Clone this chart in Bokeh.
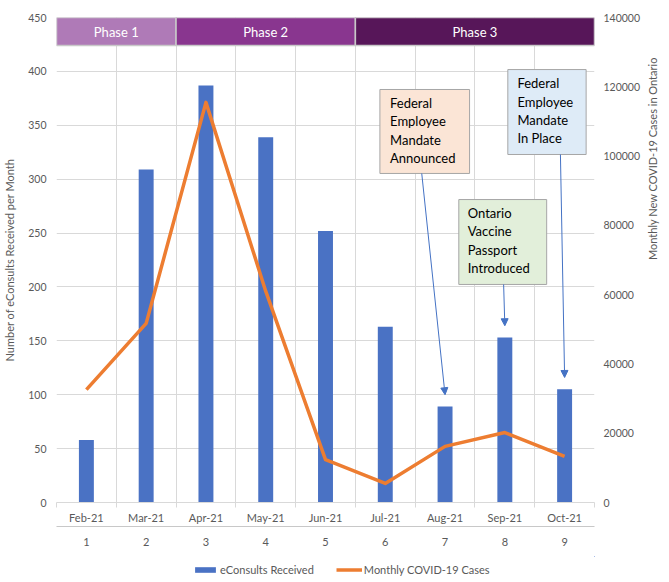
import math
from bokeh.plotting import figure
from bokeh.layouts import column
from bokeh.models import (Range1d, LinearAxis, FixedTicker, Legend, LegendItem,
                          Arrow, NormalHead, BasicTickFormatter)
from bokeh.core.properties import value
from bokeh.embed import file_html
from bokeh.resources import INLINE

# ---------------- data ----------------
months = ["Feb-21", "Mar-21", "Apr-21", "May-21", "Jun-21", "Jul-21", "Aug-21", "Sep-21", "Oct-21"]
month_numbers = ["1", "2", "3", "4", "5", "6", "7", "8", "9"]
econsults = [58, 309, 387, 339, 252, 163, 89, 153, 105]
covid_cases = [32600, 51700, 115500, 61000, 12400, 5500, 16200, 20200, 13300]

left_ticks = [0, 50, 100, 150, 200, 250, 300, 350, 400, 450]
right_ticks = [0, 20000, 40000, 60000, 80000, 100000, 120000, 140000]

phase_names = ["Phase 1", "Phase 2", "Phase 3"]
phase_first = [1, 3, 6]
phase_last = [2, 5, 9]

event_texts = ["Federal\nEmployee\nMandate\nAnnounced",
               "Ontario\nVaccine\nPassport\nIntroduced",
               "Federal\nEmployee\nMandate\nIn Place"]
event_month = [7, 8, 9]

series_names = ["eConsults Received", "Monthly COVID-19 Cases"]

# ---------------- style / layout ----------------
FONT = "Lato"
GRAY = "#595959"
GRID = "#D9D9D9"
BAR = "#4A72C4"
LINE = "#ED7D31"
phase_colors = ["#AF7AB7", "#89368F", "#571659"]
event_fill = ["#FBE5D6", "#E2EFDA", "#DEEBF7"]
# box positions (category units, left-axis units)
box_left = [5.91, 7.23, 8.05]
box_right = [7.41, 8.70, 9.36]
box_bottom = [305.3, 202.3, 322.9]
box_top = [383.2, 281.1, 401.7]
text_x = [6.08, 7.38, 8.21]
text_y = [378.0, 276.0, 396.5]
arrow_x0 = [6.61, 7.98, 8.93]
arrow_gap = 11

x = list(range(1, len(months) + 1))

p = figure(width=669, height=556, x_range=Range1d(0.5, 9.5), y_range=Range1d(0, 450),
           output_backend="svg", toolbar_location=None,
           min_border_left=55, min_border_right=75, min_border_top=17, min_border_bottom=54)
p.outline_line_color = None
p.background_fill_color = "white"

# grids
p.xgrid.ticker = FixedTicker(ticks=[i + 0.5 for i in range(0, 10)])
p.ygrid.ticker = FixedTicker(ticks=left_ticks)
for g in (p.xgrid, p.ygrid):
    g.grid_line_color = GRID
    g.grid_line_width = 1

# left axis
ly = p.yaxis[0]
ly.ticker = FixedTicker(ticks=left_ticks)
ly.axis_label = "Number of eConsults Received per Month"
ly.major_label_standoff = 10
ly.axis_label_standoff = 9

# right axis
p.extra_y_ranges = {"cases": Range1d(0, 140000)}
ry = LinearAxis(y_range_name="cases", ticker=FixedTicker(ticks=right_ticks),
                formatter=BasicTickFormatter(use_scientific=False),
                axis_label="Monthly New COVID-19 Cases in Ontario")
ry.major_label_standoff = 9
ry.axis_label_standoff = 9
ry.axis_label_orientation = math.pi / 2
p.add_layout(ry, "right")

for ax in (ly, ry):
    ax.axis_line_color = None
    ax.major_tick_line_color = None
    ax.minor_tick_line_color = None
    ax.major_tick_out = 0
    ax.major_tick_in = 0
    ax.minor_tick_out = 0
    ax.minor_tick_in = 0
    ax.major_label_text_font_size = "10.5px"

# x axes (months, then numbers)
bx = p.xaxis[0]
bx.ticker = FixedTicker(ticks=x, minor_ticks=[i + 0.5 for i in range(0, 10)])
bx.major_label_overrides = {i: m for i, m in zip(x, months)}
bx.axis_line_color = GRID
bx.major_tick_line_color = None
bx.minor_tick_line_color = GRID
bx.minor_tick_out = 5
bx.minor_tick_in = 0
bx.major_tick_out = 0
bx.major_tick_in = 0
bx.major_label_standoff = 3

bx2 = LinearAxis(ticker=FixedTicker(ticks=x))
bx2.major_label_overrides = {i: n for i, n in zip(x, month_numbers)}
bx2.axis_line_color = "#C8C8C8"
bx2.axis_line_width = 1.2
bx2.major_tick_line_color = None
bx2.minor_tick_line_color = None
bx2.major_tick_out = 0
bx2.major_tick_in = 0
bx2.minor_tick_out = 0
bx2.minor_tick_in = 0
bx2.major_label_standoff = 11
p.add_layout(bx2, "below")

for ax in (ly, ry, bx, bx2):
    ax.major_label_text_font = FONT
    ax.major_label_text_color = GRAY
    ax.axis_label_text_font = FONT
    ax.axis_label_text_color = GRAY
    ax.axis_label_text_font_style = "normal"
    ax.axis_label_text_font_size = "11px"
for ax in (bx, bx2):
    ax.major_label_text_font_size = "11px"

# bars and line
bars = p.vbar(x=x, top=econsults, width=0.25, fill_color=BAR, line_color=None)
line = p.line(x=x, y=covid_cases, y_range_name="cases", line_color=LINE,
              line_width=3.5, line_join="round")

# phase band
p.quad(left=[f - 0.5 for f in phase_first], right=[l + 0.5 for l in phase_last],
       bottom=424, top=450, fill_color=phase_colors, line_color="#C8C8C8", line_width=1.5)
p.text(x=[(f + l) / 2 for f, l in zip(phase_first, phase_last)], y=[437] * 3, text=phase_names,
       text_align="center", text_baseline="middle", text_color="white",
       text_font=value(FONT), text_font_size="13px")

# event boxes
p.quad(left=box_left, right=box_right, bottom=box_bottom, top=box_top,
       fill_color=event_fill, line_color="#A6A6A6", line_width=1)
p.text(x=text_x, y=text_y, text=event_texts, text_align="left", text_baseline="top",
       text_color="black", text_font=value(FONT), text_font_size="13px", text_line_height=1.15)
for x0, y0, m in zip(arrow_x0, box_bottom, event_month):
    p.add_layout(Arrow(end=NormalHead(size=7, fill_color="#4472C4", line_color="#4472C4"),
                       x_start=x0, y_start=y0, x_end=m, y_end=econsults[m - 1] + arrow_gap,
                       line_color="#4472C4", line_width=1))

# legend strip below the chart (same series, drawn outside this strip's visible range)
lg = figure(width=669, height=26, output_backend="svg", toolbar_location=None,
            x_range=Range1d(-20, -19), y_range=Range1d(-20, -19),
            x_axis_type=None, y_axis_type=None,
            min_border=0, min_border_left=0, min_border_right=0,
            min_border_top=0, min_border_bottom=0)
lg.outline_line_color = None
lg.grid.visible = False
lbar = lg.vbar(x=x, top=econsults, width=0.25, fill_color=BAR, line_color=None)
lline = lg.line(x=x, y=covid_cases, line_color=LINE, line_width=3.5)
legend = Legend(items=[LegendItem(label=series_names[0], renderers=[lbar]),
                       LegendItem(label=series_names[1], renderers=[lline])],
                orientation="horizontal", location=(136, 6),
                border_line_color=None, background_fill_alpha=0,
                glyph_width=26, glyph_height=7, label_standoff=2, spacing=22,
                margin=0, padding=4,
                label_text_font=FONT, label_text_font_size="11px", label_text_color=GRAY)
lg.add_layout(legend)

layout = column(p, lg, spacing=0)
open("out.html", "w").write(file_html(layout, INLINE))
